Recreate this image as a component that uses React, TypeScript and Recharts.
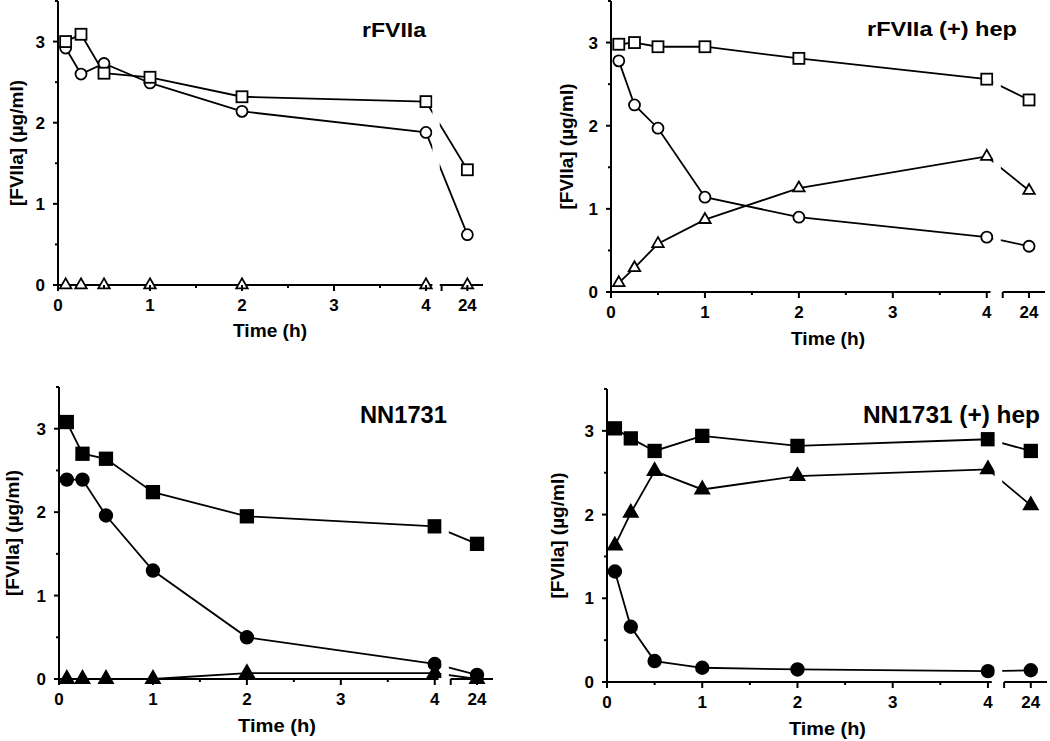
import React from 'react';
import { LineChart, Line, XAxis, YAxis, ReferenceArea, ReferenceLine } from 'recharts';

// sampling times (h); the 24 h point sits after an axis break
const times = [0.083, 0.25, 0.5, 1, 2, 4, 24];
const xTicks = [0, 0.5, 1, 1.5, 2, 2.5, 3, 3.5, 4];
const yTicks = [0, 0.5, 1, 1.5, 2, 2.5, 3, 3.5];
const yTickLabels = ['0', '', '1', '', '2', '', '3', ''];

// rFVIIa
const rfSquare = [3.0, 3.09, 2.61, 2.56, 2.32, 2.26, 1.42];
const rfCircle = [2.92, 2.6, 2.73, 2.49, 2.14, 1.88, 0.62];
const rfTriangle = [0, 0, 0, 0, 0, 0, 0];

// rFVIIa (+) hep
const rfHepSquare = [2.98, 3.0, 2.95, 2.95, 2.81, 2.56, 2.31];
const rfHepCircle = [2.78, 2.25, 1.97, 1.14, 0.9, 0.66, 0.55];
const rfHepTriangle = [0.11, 0.29, 0.58, 0.87, 1.25, 1.63, 1.22];

// NN1731
const nnSquare = [3.08, 2.7, 2.64, 2.24, 1.95, 1.83, 1.62];
const nnCircle = [2.39, 2.39, 1.96, 1.3, 0.5, 0.18, 0.05];
const nnTriangle = [0, 0, 0, 0, 0.07, 0.07, 0];

// NN1731 (+) hep
const nnHepSquare = [3.03, 2.91, 2.76, 2.94, 2.82, 2.9, 2.76];
const nnHepTriangle = [1.63, 2.02, 2.52, 2.3, 2.46, 2.54, 2.11];
const nnHepCircle = [1.32, 0.66, 0.25, 0.17, 0.15, 0.13, 0.14];

const BREAK_X = 4.45; // where 24 h is drawn
const GAP_START = 4.04;
const GAP_END = 4.17;
const X_MAX = 4.62;
const FONT = '"Liberation Sans", Arial, Helvetica, sans-serif';

const axisPos = (t: number) => (t > 4 ? BREAK_X : t);

function buildRows(sq: number[], ci: number[], tr: number[]) {
  return times.map((t, i) => ({ x: axisPos(t), sq: sq[i], ci: ci[i], tr: tr[i] }));
}

type Shape = 'square' | 'circle' | 'triangle';

function makeDot(shape: Shape, filled: boolean) {
  return (props: any) => {
    const { cx, cy, index } = props;
    const fill = filled ? '#000' : '#fff';
    if (cx == null || cy == null) return <g key={index} />;
    if (shape === 'square') {
      const s = filled ? 12.5 : 11;
      return <rect key={index} x={cx - s / 2} y={cy - s / 2} width={s} height={s} fill={fill} stroke="#000" strokeWidth={1.8} />;
    }
    if (shape === 'circle') {
      return <circle key={index} cx={cx} cy={cy} r={filled ? 6.3 : 5.5} fill={fill} stroke="#000" strokeWidth={1.8} />;
    }
    const s = filled ? 14 : 11.5;
    const h = s * 0.866;
    const pts = `${cx},${cy - (h * 2) / 3} ${cx - s / 2},${cy + h / 3} ${cx + s / 2},${cy + h / 3}`;
    return <polygon key={index} points={pts} fill={fill} stroke="#000" strokeWidth={1.8} strokeLinejoin="miter" />;
  };
}

function XTick(props: any) {
  const { x, y, payload } = props;
  const v = payload.value as number;
  const isInt = Number.isInteger(v);
  const len = isInt || v === BREAK_X || v === GAP_END ? 6 : 3;
  const label = v === BREAK_X ? '24' : isInt ? String(v) : '';
  return (
    <g>
      <line x1={x} x2={x} y1={y} y2={y + len} stroke="#000" strokeWidth={2} />
      {label && (
        <text x={x} y={y + 26} textAnchor="middle" fontFamily={FONT} fontWeight="bold" fontSize={17} fill="#000">
          {label}
        </text>
      )}
    </g>
  );
}

function YTick(props: any) {
  const { x, y, index } = props;
  const label = yTickLabels[index] ?? '';
  const len = label ? 5 : 3;
  return (
    <g>
      <line x1={x - len} x2={x} y1={y} y2={y} stroke="#000" strokeWidth={2} />
      {label && (
        <text x={x - 13} y={y + 6} textAnchor="end" fontFamily={FONT} fontWeight="bold" fontSize={17} fill="#000">
          {label}
        </text>
      )}
    </g>
  );
}

interface PanelProps {
  left: number;
  top: number;
  width: number;
  height: number;
  plotLeft: number;
  plotRight: number;
  plotTop: number;
  plotBottom: number;
  rows: { x: number; sq: number; ci: number; tr: number }[];
  filled: boolean;
}

function Panel({ left, top, width, height, plotLeft, plotRight, plotTop, plotBottom, rows, filled }: PanelProps) {
  const xAxisHeight = 55;
  const margin = {
    top: plotTop - top,
    right: left + width - plotRight,
    left: 0,
    bottom: top + height - plotBottom - xAxisHeight,
  };
  return (
    <div style={{ position: 'absolute', left, top, width, height }}>
      <LineChart width={width} height={height} data={rows} margin={margin}>
        <XAxis
          type="number"
          dataKey="x"
          domain={[0, X_MAX]}
          ticks={[...xTicks, GAP_END, BREAK_X]}
          interval={0}
          axisLine={false}
          tickLine={false}
          tickSize={0}
          tickMargin={0}
          height={xAxisHeight}
          tick={<XTick />}
        />
        <YAxis
          type="number"
          domain={[0, 3.5]}
          ticks={yTicks}
          interval={0}
          width={plotLeft - left}
          axisLine={{ stroke: '#000', strokeWidth: 2 }}
          tickLine={false}
          tickSize={0}
          tickMargin={0}
          tick={<YTick />}
        />
        <ReferenceLine segment={[{ x: 0, y: 0 }, { x: GAP_START, y: 0 }]} stroke="#000" strokeWidth={2} />
        <ReferenceLine segment={[{ x: GAP_END, y: 0 }, { x: X_MAX, y: 0 }]} stroke="#000" strokeWidth={2} />
        <Line dataKey="tr" stroke="#000" strokeWidth={1.8} dot={makeDot('triangle', filled)} isAnimationActive={false} />
        <Line dataKey="ci" stroke="#000" strokeWidth={1.8} dot={makeDot('circle', filled)} isAnimationActive={false} />
        <Line dataKey="sq" stroke="#000" strokeWidth={1.8} dot={makeDot('square', filled)} isAnimationActive={false} />
        <ReferenceArea
          x1={4.07}
          x2={4.15}
          y1={-0.02}
          y2={3.5}
          ifOverflow="visible"
          fill="#fff"
          fillOpacity={1}
          stroke="none"
          zIndex={650}
        />
      </LineChart>
    </div>
  );
}

const titleStyle = { fontFamily: FONT, fontWeight: 'bold' as const, fill: '#000' };

export default function App() {
  return (
    <div style={{ position: 'absolute', left: 0, top: 0, width: 1050, height: 741, background: '#fff' }}>
      <Panel left={0} top={0} width={525} height={370} plotLeft={58} plotRight={483} plotTop={1} plotBottom={285}
        rows={buildRows(rfSquare, rfCircle, rfTriangle)} filled={false} />
      <Panel left={525} top={0} width={525} height={370} plotLeft={611} plotRight={1045} plotTop={1} plotBottom={292}
        rows={buildRows(rfHepSquare, rfHepCircle, rfHepTriangle)} filled={false} />
      <Panel left={0} top={370} width={525} height={371} plotLeft={59} plotRight={493} plotTop={387} plotBottom={679}
        rows={buildRows(nnSquare, nnCircle, nnTriangle)} filled={true} />
      <Panel left={525} top={370} width={525} height={371} plotLeft={607} plotRight={1047} plotTop={389} plotBottom={682}
        rows={buildRows(nnHepSquare, nnHepCircle, nnHepTriangle)} filled={true} />
      <svg width={1050} height={741} style={{ position: 'absolute', left: 0, top: 0, pointerEvents: 'none' }}>
        <text x={362} y={36.5} fontSize={20} textLength={64} lengthAdjust="spacingAndGlyphs" {...titleStyle}>rFVIIa</text>
        <text x={867} y={36} fontSize={20} textLength={150} lengthAdjust="spacingAndGlyphs" {...titleStyle}>rFVIIa (+) hep</text>
        <text x={360} y={422.5} fontSize={23} textLength={87} lengthAdjust="spacingAndGlyphs" {...titleStyle}>NN1731</text>
        <text x={863} y={422.5} fontSize={23} textLength={177} lengthAdjust="spacingAndGlyphs" {...titleStyle}>NN1731 (+) hep</text>

        <text x={233} y={337} fontSize={19} textLength={74} lengthAdjust="spacingAndGlyphs" {...titleStyle}>Time (h)</text>
        <text x={791} y={345} fontSize={19} textLength={74} lengthAdjust="spacingAndGlyphs" {...titleStyle}>Time (h)</text>
        <text x={238} y={732} fontSize={19} textLength={78} lengthAdjust="spacingAndGlyphs" {...titleStyle}>Time (h)</text>
        <text x={789} y={735} fontSize={19} textLength={77} lengthAdjust="spacingAndGlyphs" {...titleStyle}>Time (h)</text>

        <text x={16} y={143} fontSize={19} textAnchor="middle" dominantBaseline="central" transform="rotate(-90 16 143)" {...titleStyle}>[FVIIa] (µg/ml)</text>
        <text x={566} y={146.5} fontSize={19} textAnchor="middle" dominantBaseline="central" transform="rotate(-90 566 146.5)" {...titleStyle}>[FVIIa] (µg/ml)</text>
        <text x={12} y={533} fontSize={19} textAnchor="middle" dominantBaseline="central" transform="rotate(-90 12 533)" {...titleStyle}>[FVIIa] (µg/ml)</text>
        <text x={557} y={535.5} fontSize={19} textAnchor="middle" dominantBaseline="central" transform="rotate(-90 557 535.5)" {...titleStyle}>[FVIIa] (µg/ml)</text>
      </svg>
    </div>
  );
}
